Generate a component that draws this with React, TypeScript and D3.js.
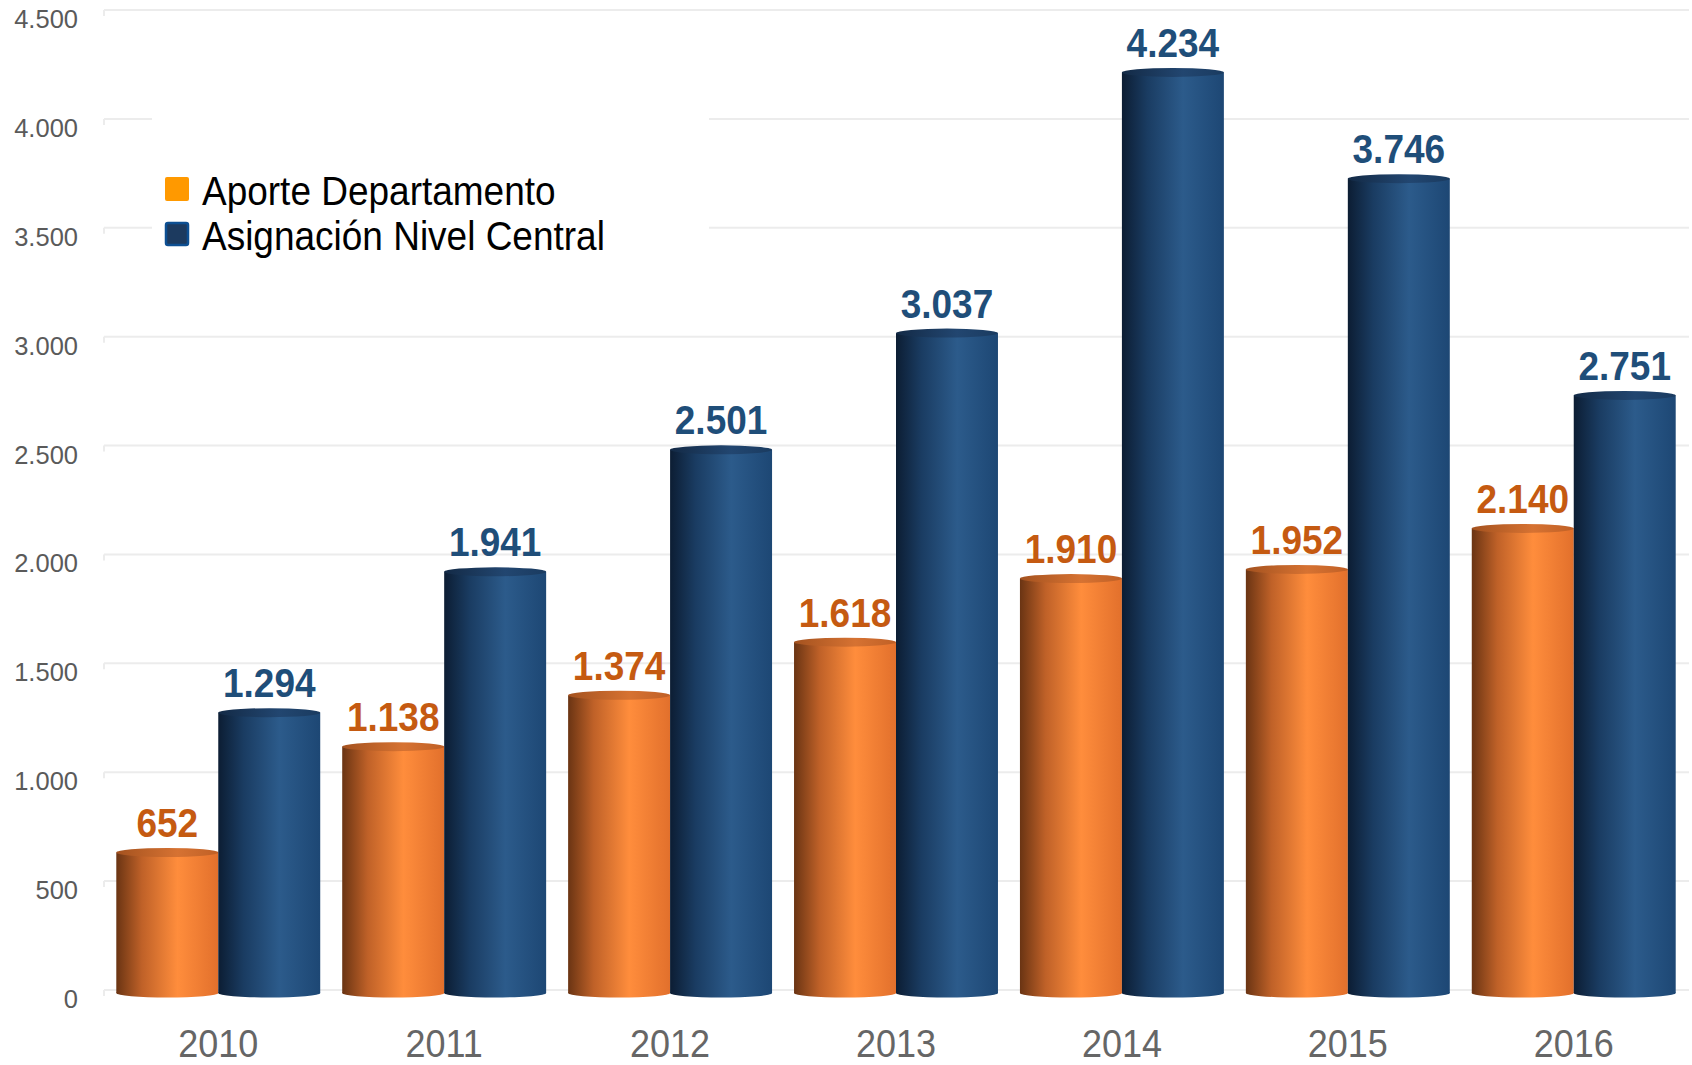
import React from "react";
import * as d3 from "d3";

const years = ["2010", "2011", "2012", "2013", "2014", "2015", "2016"];
const aporte = [652, 1138, 1374, 1618, 1910, 1952, 2140];
const asignacion = [1294, 1941, 2501, 3037, 4234, 3746, 2751];
const seriesNames = ["Aporte Departamento", "Asignación Nivel Central"];
const yTicks = [0, 500, 1000, 1500, 2000, 2500, 3000, 3500, 4000, 4500];

const W = 1692;
const H = 1065;
const fmt = (v: number) => d3.format(",")(v).replace(/,/g, ".");

export default function App() {
  const y = d3.scaleLinear().domain([0, 4500]).range([990, 10]);
  const x0 = d3.scaleBand<string>().domain(years).range([105, 1687]).paddingInner(0.0973).paddingOuter(0.05);
  const x1 = d3.scaleBand<string>().domain(["a", "b"]).range([0, x0.bandwidth()]);
  const ry = 4.5;
  const font = "'Liberation Sans', Arial, sans-serif";

  const bars: { key: string; s: string; v: number; x: number; w: number; color: string }[] = [];
  years.forEach((yr, i) => {
    bars.push({ key: yr + "a", s: "o", v: aporte[i], x: x0(yr)! + x1("a")!, w: x1.bandwidth(), color: "#c55a11" });
    bars.push({ key: yr + "b", s: "b", v: asignacion[i], x: x0(yr)! + x1("b")!, w: x1.bandwidth(), color: "#1f4e79" });
  });

  return (
    <svg width={W} height={H} style={{ position: "absolute", left: 0, top: 0, background: "#fff" }} fontFamily={font}>
      <defs>
        <linearGradient id="gO" x1="0" x2="1" y1="0" y2="0">
          <stop offset="0" stopColor="#6a3413" />
          <stop offset="0.25" stopColor="#bf6128" />
          <stop offset="0.6" stopColor="#ff8d3c" />
          <stop offset="1" stopColor="#e2702c" />
        </linearGradient>
        <linearGradient id="gB" x1="0" x2="1" y1="0" y2="0">
          <stop offset="0" stopColor="#0c1d33" />
          <stop offset="0.25" stopColor="#1a3c62" />
          <stop offset="0.6" stopColor="#2c5b8b" />
          <stop offset="1" stopColor="#1d4774" />
        </linearGradient>
        <linearGradient id="tO" x1="0" x2="1" y1="0" y2="0">
          <stop offset="0" stopColor="#a4521f" />
          <stop offset="0.6" stopColor="#d67232" />
          <stop offset="1" stopColor="#c06026" />
        </linearGradient>
        <linearGradient id="tB" x1="0" x2="1" y1="0" y2="0">
          <stop offset="0" stopColor="#132a46" />
          <stop offset="0.6" stopColor="#224670" />
          <stop offset="1" stopColor="#1a3b60" />
        </linearGradient>
      </defs>

      {/* gridlines */}
      {yTicks.map((t) => (
        <g key={t}>
          <line x1={104} x2={1689} y1={y(t)} y2={y(t)} stroke="#ececec" strokeWidth={2} />
          <line x1={104} x2={104} y1={y(t)} y2={y(t) + 6} stroke="#ececec" strokeWidth={2} />
          <text x={78} y={y(t) + 18} textAnchor="end" fontSize={25.5} fill="#5a5a5a">
            {fmt(t)}
          </text>
        </g>
      ))}

      {/* legend background */}
      <rect x={152} y={105} width={557} height={150} fill="#fff" />

      {/* bars */}
      {bars.map((b) => {
        const top = y(b.v);
        const bottom = y(0);
        const fill = b.s === "o" ? "url(#gO)" : "url(#gB)";
        const tfill = b.s === "o" ? "url(#tO)" : "url(#tB)";
        return (
          <g key={b.key}>
            <ellipse cx={b.x + b.w / 2} cy={bottom + 3} rx={b.w / 2} ry={ry} fill={fill} />
            <rect x={b.x} y={top + ry} width={b.w} height={bottom + 3 - top - ry} fill={fill} />
            <ellipse cx={b.x + b.w / 2} cy={top + ry} rx={b.w / 2} ry={ry} fill={tfill} />
            <g transform={`translate(${b.x + b.w / 2},${top - 11}) scale(1,1.1)`}>
              <text textAnchor="middle" fontSize={37} fontWeight="bold" fill={b.color}>
                {fmt(b.v)}
              </text>
            </g>
          </g>
        );
      })}

      {/* x labels */}
      {years.map((yr) => (
        <g key={yr} transform={`translate(${x0(yr)! + x0.bandwidth() / 2},1057) scale(1,1.1)`}>
          <text textAnchor="middle" fontSize={36} fill="#666">
            {yr}
          </text>
        </g>
      ))}

      {/* legend */}
      <rect x={165} y={177} width={24} height={24} rx={2} fill="#ff9900" />
      <rect x={166} y={223} width={22} height={22} rx={2} fill="#1c3a5f" stroke="#0d4f92" strokeWidth={2.5} />
      <g transform="translate(202,205) scale(1,1.1)">
        <text fontSize={37} fill="#000">{seriesNames[0]}</text>
      </g>
      <g transform="translate(202,250) scale(1,1.1)">
        <text fontSize={37} fill="#000">{seriesNames[1]}</text>
      </g>
    </svg>
  );
}
